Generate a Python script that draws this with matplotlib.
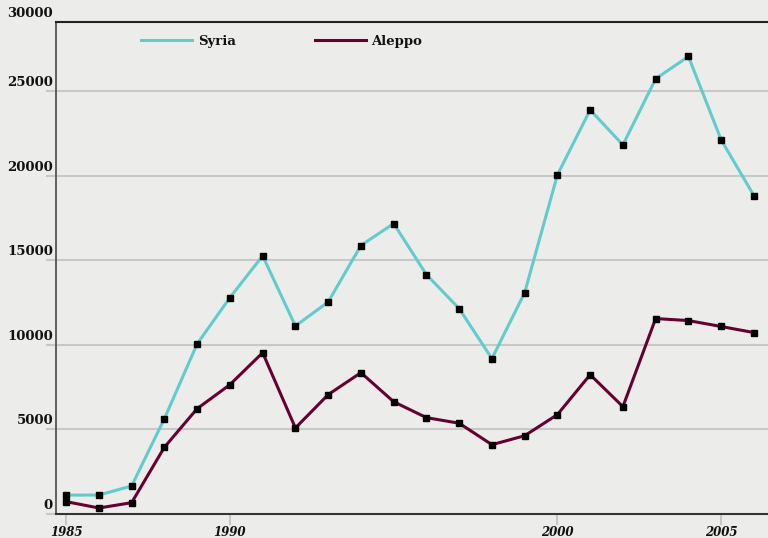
import matplotlib
matplotlib.use("Agg")
import matplotlib.pyplot as plt
from matplotlib.lines import Line2D
from matplotlib.transforms import blended_transform_factory, ScaledTranslation

years = list(range(1985, 2007))
syria = [1120, 1120, 1660, 5640, 10060, 12800, 15270, 11120, 12540, 15880, 17180,
         14160, 12150, 9190, 13090, 20060, 23900, 21830, 25740, 27060, 22130, 18830]
aleppo = [730, 355, 670, 3950, 6230, 7650, 9540, 5090, 7060, 8360, 6640,
          5700, 5370, 4100, 4630, 5880, 8240, 6350, 11560, 11440, 11090, 10730]
series_names = ["Syria", "Aleppo"]
y_ticks = [0, 5000, 10000, 15000, 20000, 25000]
top_label = "30000"
x_ticks = [1985, 1990, 2000, 2005]

bg = "#ecedeb"
teal = "#62cbcb"
maroon = "#660033"
grid_c = "#c8c8c8"

W, H = 768, 538
fig = plt.figure(figsize=(W / 100, H / 100), dpi=100, facecolor=bg)
ax = fig.add_axes([56 / W, 24 / H, 1 - 56 / W, (514 - 22) / H])
ax.set_facecolor(bg)

ax.set_xlim(1984.69, 2006.43)
ax.set_ylim(0, 29100)

for v in y_ticks[1:]:
    ax.axhline(v, color=grid_c, lw=1.5, zorder=1)

ax.plot(years, aleppo, color=maroon, lw=2.2, zorder=3, solid_joinstyle="miter")
ax.plot(years, syria, color=teal, lw=2.2, zorder=4, solid_joinstyle="miter")
ax.plot(years, aleppo, ls="none", marker="s", ms=5, color="black", zorder=5)
ax.plot(years, syria, ls="none", marker="s", ms=5, color="black", zorder=5)

for s in ["right"]:
    ax.spines[s].set_visible(False)
ax.spines["left"].set_color("#555555")
ax.spines["left"].set_linewidth(1.3)
ax.spines["top"].set_color("#222222")
ax.spines["top"].set_linewidth(1.5)
ax.spines["bottom"].set_color("#333333")
ax.spines["bottom"].set_linewidth(1.5)

# y ticks (stubs) and labels above gridlines
ax.set_yticks(y_ticks)
ax.set_yticklabels([])
ax.tick_params(axis="y", length=7.2, width=1.5, color=grid_c, direction="out")
trans = blended_transform_factory(ax.transAxes, ax.transData) + ScaledTranslation(-3 / 100, 2 / 100, fig.dpi_scale_trans)
for v in y_ticks:
    ax.text(0, v, f"{v}", transform=trans, ha="right", va="bottom",
            family="DejaVu Serif", fontweight="bold", fontsize=9.5, color="#111111")
trans_top = ax.transAxes + ScaledTranslation(-3 / 100, 2 / 100, fig.dpi_scale_trans)
ax.text(0, 1, top_label, transform=trans_top, ha="right", va="bottom",
        family="DejaVu Serif", fontweight="bold", fontsize=9.5, color="#111111")

# x ticks
ax.set_xticks(x_ticks)
ax.set_xticklabels([str(x) for x in x_ticks], family="DejaVu Serif",
                   fontweight="bold", fontstyle="italic", fontsize=8.5, color="#111111")
ax.tick_params(axis="x", length=8, width=1.5, color=grid_c, direction="out", pad=0.5)

handles = [Line2D([], [], color=teal, lw=2.2), Line2D([], [], color=maroon, lw=2.2)]
leg = ax.legend(handles, series_names, loc="center left",
                bbox_to_anchor=(141 / W, 1 - 41 / H), bbox_transform=fig.transFigure,
                ncol=2, frameon=False, borderpad=0, borderaxespad=0,
                handlelength=3.9, handletextpad=0.4, columnspacing=6.0,
                prop={"family": "DejaVu Serif", "weight": "bold", "size": 9.5})
for t in leg.get_texts():
    t.set_color("#111111")

fig.savefig("out.png", dpi=100, facecolor=bg)
